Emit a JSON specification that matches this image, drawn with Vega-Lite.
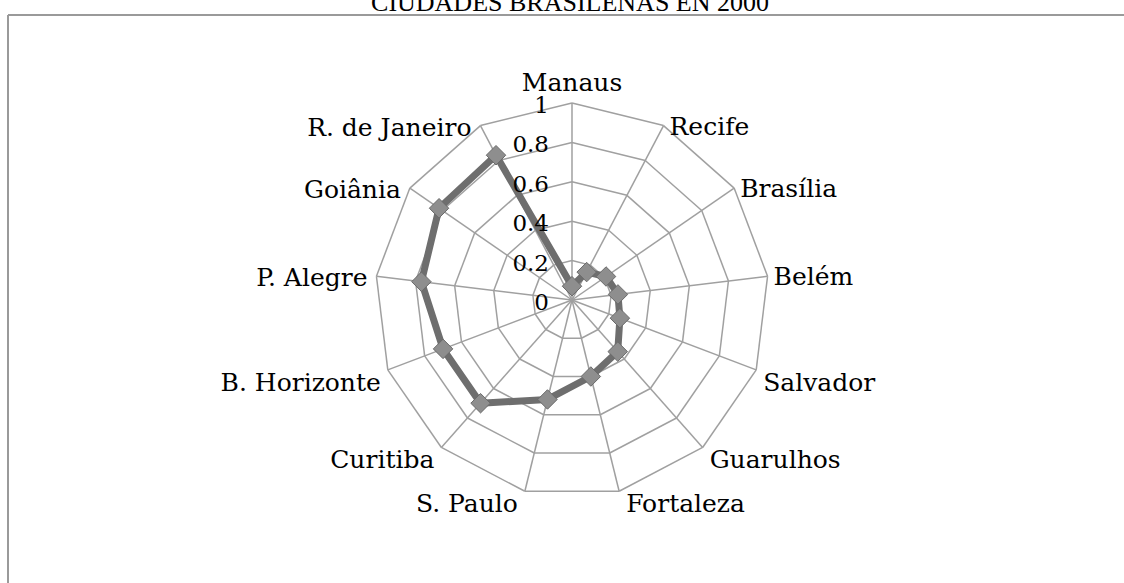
{
  "$schema": "https://vega.github.io/schema/vega-lite/v6.json",
  "width": 1124,
  "height": 568,
  "autosize": {"type": "none"},
  "padding": {"left": 0, "top": 15, "right": 0, "bottom": 0},
  "background": "white",
  "config": {"view": {"stroke": null}},
  "data": {
    "values": [
      {"city": "Manaus", "value": 0.07},
      {"city": "Recife", "value": 0.16},
      {"city": "Brasília", "value": 0.21},
      {"city": "Belém", "value": 0.235},
      {"city": "Salvador", "value": 0.26},
      {"city": "Guarulhos", "value": 0.35},
      {"city": "Fortaleza", "value": 0.40},
      {"city": "S. Paulo", "value": 0.52},
      {"city": "Curitiba", "value": 0.70},
      {"city": "B. Horizonte", "value": 0.70},
      {"city": "P. Alegre", "value": 0.77},
      {"city": "Goiânia", "value": 0.82},
      {"city": "R. de Janeiro", "value": 0.83}
    ]
  },
  "transform": [
    {"window": [{"op": "row_number", "as": "i"}]},
    {
      "window": [
        {"op": "lead", "field": "value", "as": "nextv"},
        {"op": "first_value", "field": "value", "as": "firstv"}
      ],
      "sort": [{"field": "i", "order": "ascending"}],
      "frame": [null, null]
    },
    {"calculate": "(datum.i - 1) * 2 * PI / 13", "as": "a"},
    {"calculate": "datum.i * 2 * PI / 13", "as": "a2"},
    {"calculate": "isValid(datum.nextv) ? datum.nextv : datum.firstv", "as": "v2"},
    {"calculate": "sin(datum.a)", "as": "sx"},
    {"calculate": "cos(datum.a)", "as": "sy"}
  ],
  "layer": [
    {
      "data": {"values": [{}]},
      "mark": {"type": "rule", "color": "#9a9a9a", "strokeWidth": 2},
      "encoding": {
        "x": {"datum": -2.86294, "type": "quantitative", "scale": {"domain": [-2.90355, 2.80203], "nice": false, "zero": false}, "axis": null},
        "y": {"datum": -1.43655, "type": "quantitative", "scale": {"domain": [-1.43655, 1.4467], "nice": false, "zero": false}, "axis": null},
        "y2": {"datum": 1.4467}
      }
    },
    {
      "data": {"values": [{}]},
      "mark": {"type": "rule", "color": "#9a9a9a", "strokeWidth": 2},
      "encoding": {
        "x": {"datum": -2.86294, "type": "quantitative"},
        "x2": {"datum": 2.80203},
        "y": {"datum": 1.4467, "type": "quantitative"}
      }
    },
    {
      "data": {"values": [{"title": "CIUDADES BRASILEÑAS EN 2000"}]},
      "mark": {"type": "text", "align": "center", "baseline": "alphabetic", "font": "Liberation Serif", "fontSize": 26, "color": "#000000"},
      "encoding": {
        "x": {"datum": -0.01, "type": "quantitative"},
        "y": {"datum": 1.4670, "type": "quantitative"},
        "text": {"field": "title"}
      }
    },
    {
      "mark": {"type": "rule", "color": "#a0a0a0", "strokeWidth": 1.5},
      "encoding": {
        "x": {"field": "sx", "type": "quantitative"},
        "y": {"field": "sy", "type": "quantitative"},
        "x2": {"datum": 0},
        "y2": {"datum": 0}
      }
    },
    {
      "transform": [
        {"calculate": "0.2", "as": "l1"},
        {"calculate": "0.4", "as": "l2"},
        {"calculate": "0.6", "as": "l3"},
        {"calculate": "0.8", "as": "l4"},
        {"calculate": "1", "as": "l5"},
        {"fold": ["l1", "l2", "l3", "l4", "l5"], "as": ["lname", "lvl"]},
        {"calculate": "datum.lvl * sin(datum.a)", "as": "gx1"},
        {"calculate": "datum.lvl * cos(datum.a)", "as": "gy1"},
        {"calculate": "datum.lvl * sin(datum.a2)", "as": "gx2"},
        {"calculate": "datum.lvl * cos(datum.a2)", "as": "gy2"}
      ],
      "mark": {"type": "rule", "color": "#a0a0a0", "strokeWidth": 1.5},
      "encoding": {
        "x": {"field": "gx1", "type": "quantitative"},
        "y": {"field": "gy1", "type": "quantitative"},
        "x2": {"field": "gx2"},
        "y2": {"field": "gy2"}
      }
    },
    {
      "transform": [
        {"calculate": "datum.value * sin(datum.a)", "as": "px"},
        {"calculate": "datum.value * cos(datum.a)", "as": "py"},
        {"calculate": "datum.v2 * sin(datum.a2)", "as": "qx"},
        {"calculate": "datum.v2 * cos(datum.a2)", "as": "qy"}
      ],
      "mark": {"type": "rule", "color": "#6e6e6e", "strokeWidth": 7, "strokeCap": "round"},
      "encoding": {
        "x": {"field": "px", "type": "quantitative"},
        "y": {"field": "py", "type": "quantitative"},
        "x2": {"field": "qx"},
        "y2": {"field": "qy"}
      }
    },
    {
      "transform": [
        {"calculate": "datum.value * sin(datum.a)", "as": "px"},
        {"calculate": "datum.value * cos(datum.a)", "as": "py"}
      ],
      "mark": {"type": "point", "shape": "diamond", "filled": true, "size": 380, "color": "#8e8e8e", "stroke": "#6a6a6a", "strokeWidth": 1, "opacity": 1},
      "encoding": {
        "x": {"field": "px", "type": "quantitative"},
        "y": {"field": "py", "type": "quantitative"}
      }
    },
    {
      "data": {"values": [{"lvl": 0}, {"lvl": 0.2}, {"lvl": 0.4}, {"lvl": 0.6}, {"lvl": 0.8}, {"lvl": 1}]},
      "mark": {"type": "text", "align": "right", "baseline": "middle", "dx": -23, "dy": 3, "font": "DejaVu Serif", "fontSize": 23, "color": "#000000"},
      "encoding": {
        "x": {"datum": 0, "type": "quantitative"},
        "y": {"field": "lvl", "type": "quantitative"},
        "text": {"field": "lvl", "type": "quantitative", "format": "~g"}
      }
    },
    {
      "transform": [{"filter": "datum.i == 1"}],
      "mark": {"type": "text", "align": "center", "baseline": "alphabetic", "dy": -12, "font": "DejaVu Serif", "fontSize": 25, "color": "#000000"},
      "encoding": {
        "x": {"field": "sx", "type": "quantitative"},
        "y": {"field": "sy", "type": "quantitative"},
        "text": {"field": "city"}
      }
    },
    {
      "transform": [{"filter": "datum.i >= 2 && datum.i <= 4"}],
      "mark": {"type": "text", "align": "left", "baseline": "middle", "dx": 6, "dy": 1, "font": "DejaVu Serif", "fontSize": 25, "color": "#000000"},
      "encoding": {
        "x": {"field": "sx", "type": "quantitative"},
        "y": {"field": "sy", "type": "quantitative"},
        "text": {"field": "city"}
      }
    },
    {
      "transform": [{"filter": "datum.i >= 5 && datum.i <= 7"}],
      "mark": {"type": "text", "align": "left", "baseline": "top", "dx": 7, "dy": 1, "font": "DejaVu Serif", "fontSize": 25, "color": "#000000"},
      "encoding": {
        "x": {"field": "sx", "type": "quantitative"},
        "y": {"field": "sy", "type": "quantitative"},
        "text": {"field": "city"}
      }
    },
    {
      "transform": [{"filter": "datum.i >= 8 && datum.i <= 10"}],
      "mark": {"type": "text", "align": "right", "baseline": "top", "dx": -7, "dy": 1, "font": "DejaVu Serif", "fontSize": 25, "color": "#000000"},
      "encoding": {
        "x": {"field": "sx", "type": "quantitative"},
        "y": {"field": "sy", "type": "quantitative"},
        "text": {"field": "city"}
      }
    },
    {
      "transform": [{"filter": "datum.i >= 11"}],
      "mark": {"type": "text", "align": "right", "baseline": "middle", "dx": -9, "dy": 2, "font": "DejaVu Serif", "fontSize": 25, "color": "#000000"},
      "encoding": {
        "x": {"field": "sx", "type": "quantitative"},
        "y": {"field": "sy", "type": "quantitative"},
        "text": {"field": "city"}
      }
    }
  ]
}
